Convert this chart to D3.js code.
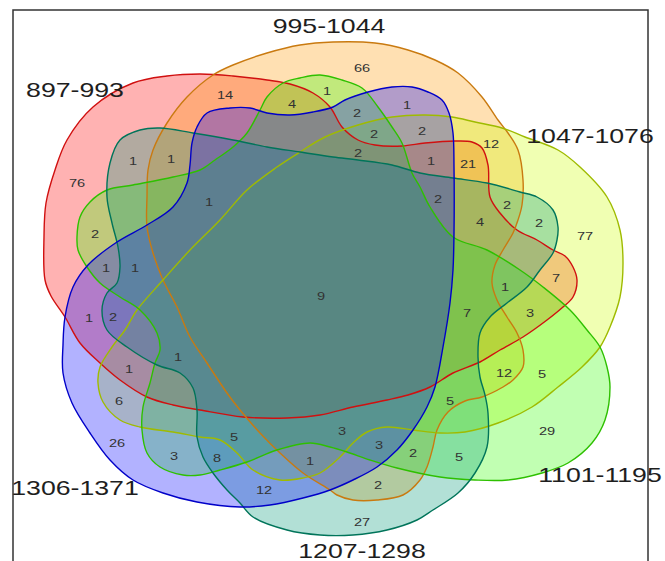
<!DOCTYPE html>
<html>
<head>
<meta charset="utf-8">
<script src="https://cdn.jsdelivr.net/npm/d3@7/dist/d3.min.js"></script>
<style>
  html, body { margin: 0; padding: 0; background: #fff; }
  svg { display: block; }
</style>
</head>
<body>
<svg id="chart" width="665" height="561"></svg>
<script>
// ---- data -------------------------------------------------------------
const setNames = ["897-993", "995-1044", "1047-1076", "1101-1195", "1207-1298", "1306-1371"];

// intersection counts, one per labelled region
const regionCounts = [
  66, 14, 4, 1, 1, 2, 2, 2, 12, 2, 1, 21, 1, 1, 76, 1, 2, 2, 4, 2, 77,
  2, 1, 1, 7, 9, 1, 1, 2, 7, 3, 1, 1, 12, 5, 6, 5, 26, 5, 3, 3, 29,
  3, 8, 1, 2, 5, 12, 2, 27
];

// ---- layout (diagram units) --------------------------------------------
const regionLabelPos = [
  [362, 68], [225, 95], [292, 104], [327, 91], [407, 105], [357, 113], [374, 134], [422, 131],
  [491, 144], [358, 153], [431, 161], [468, 164], [133, 161], [171, 159], [77, 183], [209, 202],
  [438, 199], [507, 205], [480, 222], [539, 223], [585, 236], [95, 234], [106, 268], [135, 268],
  [556, 278], [321, 296], [505, 287], [89, 318], [113, 317], [467, 313], [530, 313], [178, 357],
  [129, 369], [504, 373], [542, 374], [119, 401], [450, 401], [117, 443], [234, 437], [342, 431],
  [379, 445], [547, 431], [174, 456], [217, 458], [310, 461], [413, 453], [459, 457], [264, 490],
  [378, 485], [362, 522]
];

const setLabelPos = [[75, 97], [329, 33], [590, 143], [600, 482], [362, 558], [75, 495]];

const shapeOutlines = [
  // 897-993
  [[45,280],[44,237],[46,203],[55,170],[67,140],[93,107],[133,83],[167,76],[200,74],[233,76],[267,80],
   [290,84],[313,93],[330,107],[342,127],[358,140],[375,145],[402,146],[425,143],[455,141],[472,142],
   [482,148],[488,165],[490,197],[500,213],[517,230],[537,240],[553,250],[565,256],[573,267],[577,280],
   [573,297],[563,307],[547,320],[523,337],[500,350],[480,362],[453,373],[430,387],[408,395],[387,400],
   [353,407],[320,415],[287,418],[243,417],[200,410],[173,405],[147,397],[120,380],[100,363],[80,343],
   [65,317],[51,296]],
  // 995-1044
  [[213,75],[233,65],[267,53],[300,45],[333,42],[375,43],[408,50],[435,60],[458,73],[482,97],[498,120],
   [508,133],[518,150],[523,180],[522,205],[518,220],[513,233],[503,250],[495,265],[492,283],[497,300],
   [507,317],[517,333],[523,350],[523,367],[513,380],[503,387],[482,397],[465,401],[448,412],[437,430],
   [433,447],[427,467],[420,480],[403,495],[377,500],[353,500],[337,495],[330,490],[303,473],[280,453],
   [260,433],[240,410],[227,393],[207,363],[190,337],[177,307],[163,280],[153,253],[147,227],[147,197],
   [148,170],[153,150],[167,123],[187,97]],
  // 1047-1076
  [[163,280],[190,250],[220,220],[247,190],[277,167],[300,152],[325,137],[358,125],[392,117],[425,115],
   [452,117],[475,122],[502,128],[525,137],[558,150],[580,167],[607,197],[620,230],[623,263],[620,297],
   [610,327],[600,347],[582,367],[558,387],[532,407],[498,423],[465,432],[440,433],[413,430],[387,427],
   [367,432],[353,443],[340,457],[320,473],[303,478],[280,480],[253,470],[237,453],[220,440],[200,437],
   [173,432],[140,427],[120,420],[103,402],[98,383],[100,367],[112,347],[125,330],[137,310]],
  // 1101-1195
  [[320,75],[342,80],[362,88],[378,107],[392,127],[402,143],[412,173],[420,187],[430,207],[453,237],
   [487,250],[520,270],[543,287],[570,310],[587,330],[600,347],[607,367],[610,387],[605,420],[592,443],
   [568,463],[542,473],[508,480],[475,480],[440,477],[397,468],[370,460],[347,452],[330,447],[310,443],
   [277,450],[247,462],[220,470],[200,475],[183,475],[160,467],[147,453],[142,430],[143,407],[150,383],
   [155,363],[160,350],[157,333],[140,310],[120,297],[100,283],[87,267],[78,250],[77,237],[80,217],
   [90,202],[107,190],[133,185],[173,177],[200,170],[215,160],[233,147],[247,133],[260,110],[267,97],
   [283,83],[300,78]],
  // 1207-1298
  [[110,163],[120,140],[140,130],[160,128],[193,133],[233,140],[267,147],[300,152],[333,157],[358,160],
   [392,165],[420,173],[453,178],[487,183],[520,192],[537,197],[553,210],[558,227],[557,240],[553,253],
   [540,270],[527,287],[507,303],[490,317],[480,333],[478,357],[480,377],[485,395],[488,413],[487,447],
   [475,473],[458,493],[433,510],[417,520],[387,530],[353,535],[320,535],[287,530],[253,517],[240,503],
   [227,490],[213,473],[203,457],[197,437],[197,410],[193,388],[180,373],[157,365],[127,347],[107,330],
   [102,310],[107,293],[117,283],[120,267],[118,247],[112,223],[107,197]],
  // 1306-1371
  [[65,317],[73,287],[88,265],[117,242],[147,225],[173,207],[187,183],[190,165],[192,143],[197,127],
   [207,113],[230,108],[250,108],[267,113],[290,115],[313,112],[333,107],[345,100],[368,92],[392,87],
   [412,87],[428,92],[442,100],[449,113],[453,133],[454,167],[454,233],[453,270],[450,303],[443,347],
   [435,387],[427,407],[413,430],[397,450],[377,467],[353,480],[330,490],[303,498],[270,505],[240,507],
   [197,502],[163,493],[133,480],[110,460],[90,433],[72,403],[63,373],[63,345]]
];

// ---- styles --------------------------------------------------------------
const fillColors   = ["#ff0000", "#ff9900", "#ccff00", "#33ff00", "#009978", "#0000ff"];
const strokeColors = ["#d01010", "#c97a10", "#9fbb00", "#2ec000", "#00745a", "#0000c8"];

// ---- drawing -------------------------------------------------------------
const svg = d3.select("#chart");
const W = +svg.attr("width"), H = +svg.attr("height");

const x = d3.scaleLinear().domain([0, 665]).range([0, W]);
const y = d3.scaleLinear().domain([0, 561]).range([0, H]);

const outline = d3.line()
  .x(d => x(d[0]))
  .y(d => y(d[1]))
  .curve(d3.curveCatmullRomClosed.alpha(0.5));

const sets = setNames.map((name, i) => ({
  name, pts: shapeOutlines[i], fill: fillColors[i], stroke: strokeColors[i]
}));

svg.append("g").attr("class", "fills")
  .selectAll("path").data(sets).join("path")
  .attr("d", d => outline(d.pts))
  .attr("fill", d => d.fill)
  .attr("fill-opacity", 0.3)
  .attr("stroke", "none");

svg.append("g").attr("class", "borders")
  .selectAll("path").data(sets).join("path")
  .attr("d", d => outline(d.pts))
  .attr("fill", "none")
  .attr("stroke", d => d.stroke)
  .attr("stroke-width", 1.4);

// region counts
const stretch = 1.27;
svg.append("g").attr("class", "counts")
  .selectAll("text").data(regionCounts).join("text")
  .attr("transform", (d, i) => `translate(${x(regionLabelPos[i][0])},${y(regionLabelPos[i][1])}) scale(${stretch},1)`)
  .attr("text-anchor", "middle")
  .attr("dy", "0.36em")
  .attr("font-family", "'Liberation Sans', Arial, sans-serif")
  .attr("font-size", 11.5)
  .attr("fill", "#333")
  .text(d => d);

// plot frame
svg.append("rect")
  .attr("x", 13).attr("y", 10)
  .attr("width", 635).attr("height", 560)
  .attr("fill", "none")
  .attr("stroke", "#333")
  .attr("stroke-width", 1.5);

// set names
svg.append("g").attr("class", "set-names")
  .selectAll("text").data(setNames).join("text")
  .attr("transform", (d, i) => `translate(${x(setLabelPos[i][0])},${y(setLabelPos[i][1])}) scale(${stretch},1)`)
  .attr("text-anchor", "middle")
  .attr("font-family", "'Liberation Sans', Arial, sans-serif")
  .attr("font-size", 21)
  .attr("fill", "#1e1e1e")
  .text(d => d);
</script>
</body>
</html>
